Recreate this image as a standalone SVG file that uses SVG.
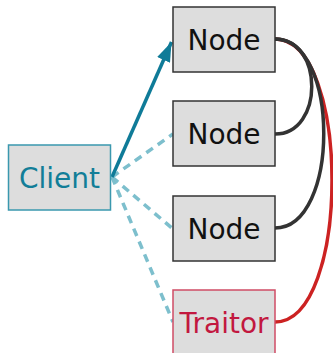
<svg xmlns="http://www.w3.org/2000/svg" width="333" height="353" viewBox="0 0 333 353">
  <defs>
    <style>
      .box { fill: #dddddd; stroke-width: 1.5; }
      .node .box { stroke: #333333; }
      .label { font-family: "DejaVu Sans", sans-serif; font-size: 28px; text-anchor: middle; }
      .node .label { fill: #111111; }
      #client .box { stroke: #3a98ae; }
      #client .label { fill: #127e98; }
      #traitor .box { stroke: #cf4c66; }
      #traitor .label { fill: #c2183f; }
      .link { fill: none; stroke-width: 3.5; }
      .send { stroke: #0f7b98; }
      .weak { stroke: #7dbfcd; stroke-dasharray: 8 6; }
      .peer { stroke: #333333; }
      .bad { stroke: #cc2222; }
    </style>
    <marker id="arrow" viewBox="0 0 14 10" refX="14" refY="5" markerWidth="5.6" markerHeight="4" orient="auto" markerUnits="strokeWidth">
      <path d="M0,0 L14,5 L0,10 Z" fill="#0f7b98"/>
    </marker>
  </defs>

  <g id="connectors">
    <path class="link bad" d="M275,39 C351,39 351,322 275,322"/>
    <path class="link peer" d="M275,39 C340,39 340,228 275,228"/>
    <path class="link peer" d="M275,39 C324,39 324,134 275,134"/>
    <path class="link weak" d="M112,177 L173,134"/>
    <path class="link weak" d="M112,177 L173,229"/>
    <path class="link weak" d="M112,177 L173,322"/>
    <path class="link send" d="M112,177 L171.5,42" marker-end="url(#arrow)"/>
  </g>

  <g id="client">
    <rect class="box" x="8.5" y="145" width="102" height="65"/>
    <text class="label" x="59.5" y="187.5">Client</text>
  </g>

  <g id="node1" class="node">
    <rect class="box" x="173" y="7" width="102" height="65"/>
    <text class="label" x="224" y="49.5">Node</text>
  </g>

  <g id="node2" class="node">
    <rect class="box" x="173" y="101" width="102" height="65"/>
    <text class="label" x="224" y="143.5">Node</text>
  </g>

  <g id="node3" class="node">
    <rect class="box" x="173" y="196" width="102" height="65"/>
    <text class="label" x="224" y="238.5">Node</text>
  </g>

  <g id="traitor">
    <rect class="box" x="173" y="290" width="102" height="65"/>
    <text class="label" x="224" y="332.5">Traitor</text>
  </g>
</svg>
